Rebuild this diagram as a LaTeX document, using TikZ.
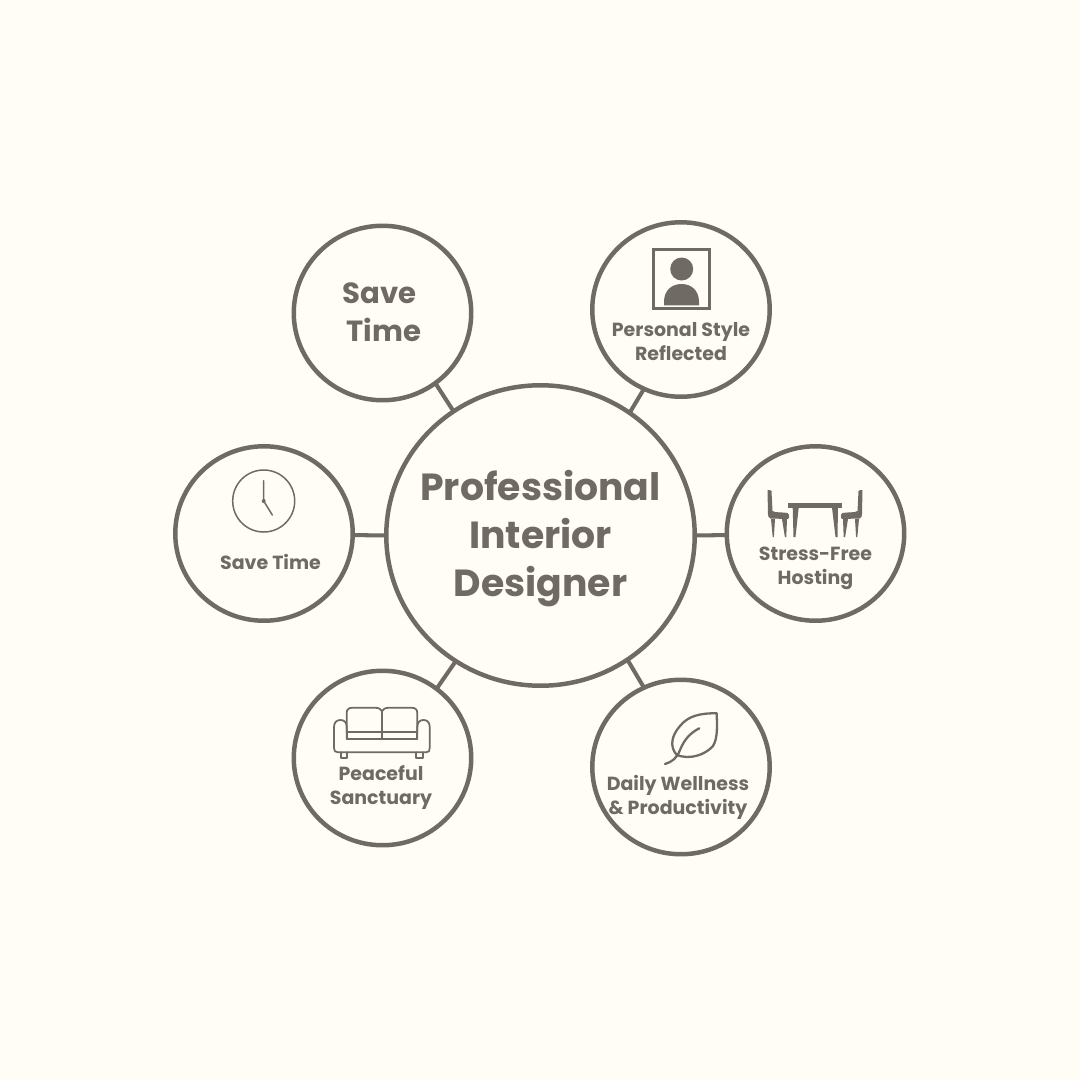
\documentclass[tikz,border=0pt]{standalone}
\usepackage{fontspec}
\setmainfont{Poppins}
\usetikzlibrary{shapes.geometric}
\definecolor{cPage}{HTML}{FFFDF5}
\definecolor{cInk}{HTML}{6F6B64}
\tikzset{
  hub/.style={
    ellipse, draw=cInk, line width=2.55pt, fill=cPage, outer sep=0pt, inner sep=0pt,
    minimum width=6.17cm, minimum height=6.01cm
  },
  sat/.style={
    ellipse, draw=cInk, line width=2.55pt, fill=cPage, outer sep=0pt, inner sep=0pt,
    minimum width=3.55cm, minimum height=3.49cm
  },
  stub/.style={draw=cInk, line width=2.3pt},
  hubtxt/.style={align=center, text=cInk, font=\fontsize{21.5}{27.3}\selectfont\bfseries},
  bigtxt/.style={align=center, text=cInk, font=\fontsize{16.6}{21.6}\selectfont\bfseries},
  sattxt/.style={align=center, text=cInk, font=\fontsize{10.8}{13.65}\selectfont\bfseries},
  thinline/.style={draw=cInk, line width=#1, line cap=round, line join=round},
  thinline/.default=1pt,
  chair/.pic={
    \fill[cInk] (0,0) .. controls (2,0) and (3,0) .. (4,1) -- (5,21)
      .. controls (8,23) and (16,22) .. (20,23) .. controls (22,24) and (22,28) .. (20.5,29)
      -- (3,28.5) .. controls (1,28) and (0.5,26) .. (0.5,24) -- cycle;
    \fill[cInk] (3.5,29) -- (7.5,29) -- (6.4,47) -- (5.2,47) -- cycle;
    \fill[cInk] (14.5,29) -- (19.5,29) -- (18.8,47) -- (17.4,47) -- cycle;
  },
}
\begin{document}
\begin{tikzpicture}[x=0.02cm, y=-0.02cm]
  \fill[cPage] (0,0) rectangle (1080,1080);
  \useasboundingbox (0,0) rectangle (1080,1080);

  \node[hub] (designer) at (540.5,535.5) {};
  \node[sat] (saveA) at (382.5,313) {};
  \node[sat] (style) at (681,309.5) {};
  \node[sat] (hosting) at (815.5,533.5) {};
  \node[sat] (saveB) at (264,533.5) {};
  \node[sat] (sanctuary) at (382.5,758) {};
  \node[sat] (wellness) at (681,767) {};

  % Spokes
  \draw[stub] (designer.125) -- (saveA.-53);
  \draw[stub] (designer.54) -- (style.-115);
  \draw[stub] (designer.0) -- (hosting.-179);
  \draw[stub] (designer.180) -- (saveB.-1);
  \draw[stub] (designer.-124) -- (sanctuary.52);
  \draw[stub] (designer.-55) -- (wellness.115);

  % Texts
  \node[hubtxt] (tDesigner) at (540.5,539) {Professional\\Interior\\Designer};
  \node[bigtxt] (tSaveA) at (384,312) {Save\kern5pt\\Time};
  \node[sattxt] (tStyle) at (681,341.5) {Personal Style\\Reflected};
  \node[sattxt] (tHosting) at (815.5,568.5) {Stress-Free\\Hosting};
  \node[sattxt] (tSaveB) at (270.5,561.5) {Save Time};
  \node[sattxt] (tSanctuary) at (381,787.5) {Peaceful\\Sanctuary};
  \node[sattxt] (tWellness) at (678,797.5) {Daily Wellness\\\&~Productivity};

  % Portrait
  \draw[cInk, line width=1.7pt] (653.5,249.5) rectangle (709.5,308.5);
  \fill[cInk] (681.7,269) circle (11.5);
  \fill[cInk] (664,305.3) -- (664,302) .. controls (664,290) and (672,284) .. (681.5,284)
    .. controls (691,284) and (699,290) .. (699,302) -- (699,305.3) -- cycle;

  % Table and chairs
  \fill[cInk] (788,503) rectangle (842,507.5);
  \fill[cInk] (792.7,507.5) -- (798.7,507.5) -- (795.5,537) -- (793.5,537) -- cycle;
  \fill[cInk] (832,507.5) -- (838,507.5) -- (837.5,537) -- (835.5,537) -- cycle;
  \pic at (767.5,490) {chair};
  \pic[xscale=-1] at (862.5,490) {chair};

  % Sofa
  \draw[thinline] (346.7,732.3) -- (346.7,713) .. controls (346.7,709) and (349,707.7) .. (353,707.7)
    -- (374,707.7) .. controls (379,707.7) and (381,709) .. (382,711)
    .. controls (383,709) and (385,707.7) .. (390,707.7) -- (411,707.7)
    .. controls (415,707.7) and (417.3,709) .. (417.3,713) -- (417.3,732.3);
  \draw[thinline] (382,711) -- (382,739);
  \draw[thinline] (346.7,732.3) -- (417.3,732.3) -- (417.3,739) -- (346.7,739) -- cycle;
  \draw[thinline] (346.7,739) -- (346.7,727) .. controls (346.7,722) and (344,720) .. (340.5,720)
    .. controls (337,720) and (334,722) .. (334,727) -- (334,748)
    .. controls (334,751) and (335,752.3) .. (338,752.3) -- (426,752.3)
    .. controls (429,752.3) and (429.7,751) .. (429.7,748) -- (429.7,727)
    .. controls (429.7,722) and (427,720) .. (423.5,720)
    .. controls (420,720) and (417.3,722) .. (417.3,727) -- (417.3,739);
  \draw[thinline] (340.7,752.3) -- (340.7,758) -- (347.3,758) -- (347.3,752.3);
  \draw[thinline] (416,752.3) -- (416,758) -- (422.7,758) -- (422.7,752.3);

  % Leaf
  \draw[thinline=1.3pt] (716.7,713.3) .. controls (700,713) and (688,716) .. (680,726)
    .. controls (672,735) and (669,746) .. (676.7,755)
    .. controls (690,760) and (705,755) .. (713,746)
    .. controls (718,738) and (717,725) .. (716.7,713.3) -- cycle;
  \draw[thinline=1.3pt] (665,764) .. controls (672,762) and (677,758) .. (680,750)
    .. controls (684,740) and (690,733) .. (699.3,728.3);

  % Clock
  \draw[thinline=0.85pt] (263.7,501) circle (31);
  \draw[thinline=0.85pt] (263.7,480.7) -- (263.7,501) -- (272.3,515);
  \fill[cInk] (263.7,501) circle (2);
\end{tikzpicture}
\end{document}
